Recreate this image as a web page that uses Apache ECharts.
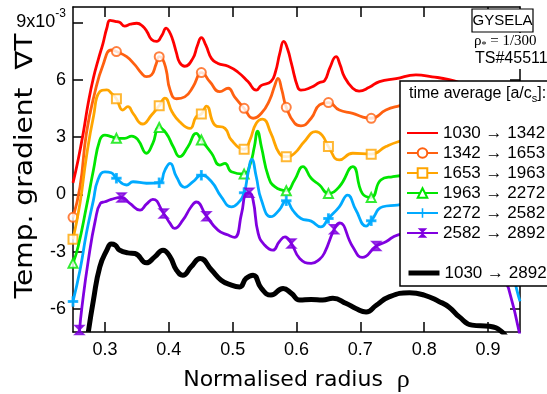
<!DOCTYPE html>
<html>
<head>
<meta charset="utf-8">
<script src="https://cdn.jsdelivr.net/npm/echarts@6/dist/echarts.min.js"></script>
<style>
  html, body { margin: 0; padding: 0; background: #fff; }
  #chart { width: 547px; height: 394px; }
</style>
</head>
<body>
<div id="chart"></div>
<script>
// tick positions
const xTicks = [0.3, 0.4, 0.5, 0.6, 0.7, 0.8, 0.9];
const yTicks = [-6, -3, 0, 3, 6, 9];

const seriesNames = [
  '1030 → 1342', '1342 → 1653', '1653 → 1963',
  '1963 → 2272', '2272 → 2582', '2582 → 2892', '1030 → 2892'
];

// curves, [rho, gradT (x1e-3)]
const red = [[0.25,0.6],[0.258,1.8],[0.266,3.2],[0.274,4.8],[0.282,6.1],[0.29,7.1],[0.297,7.9],[0.303,8.7],[0.308,9.1],[0.316,9.05],[0.323,9.0],[0.331,8.8],[0.34,8.9],[0.35,8.95],[0.359,8.8],[0.366,8.5],[0.373,8.1],[0.381,8.0],[0.389,8.3],[0.396,8.7],[0.401,8.5],[0.406,8.1],[0.412,7.4],[0.417,6.9],[0.425,6.7],[0.4375,7.1],[0.445,7.8],[0.451,8.2],[0.458,7.8],[0.467,7.1],[0.477,6.85],[0.493,6.7],[0.508,6.4],[0.524,5.9],[0.537,5.45],[0.545,5.7],[0.56,5.9],[0.567,6.4],[0.574,7.4],[0.58,8.0],[0.586,7.6],[0.592,6.85],[0.602,5.6],[0.607,5.45],[0.623,5.6],[0.636,5.85],[0.644,5.95],[0.652,6.6],[0.662,7.2],[0.668,6.8],[0.675,6.15],[0.688,5.55],[0.698,5.4],[0.714,5.6],[0.73,5.9],[0.756,6.05],[0.787,6.25],[0.8125,6.15],[0.839,6.0],[0.87,5.7],[0.9,5.5],[0.93,5.3],[0.95,4.8]];
const orange = [[0.25,-1.2],[0.261,0.4],[0.271,3.2],[0.284,5.3],[0.297,6.77],[0.31,7.55],[0.318,7.47],[0.334,7.2],[0.347,6.77],[0.357,6.35],[0.365,6.16],[0.373,6.25],[0.38,6.8],[0.385,7.2],[0.39,7.1],[0.396,6.5],[0.402,5.46],[0.412,5.0],[0.425,5.1],[0.438,5.63],[0.448,6.33],[0.451,6.37],[0.464,5.9],[0.48,5.37],[0.493,5.55],[0.503,5.1],[0.518,4.5],[0.532,3.98],[0.545,4.24],[0.558,4.94],[0.566,5.7],[0.571,6.07],[0.577,5.46],[0.584,4.55],[0.597,3.72],[0.607,3.58],[0.623,3.98],[0.636,4.68],[0.65,4.8],[0.667,4.41],[0.688,4.24],[0.703,4.05],[0.717,3.98],[0.74,4.41],[0.758,4.6],[0.79,4.8],[0.83,4.6],[0.87,4.3],[0.91,4.0],[0.95,3.5]];
const yellow = [[0.25,-2.35],[0.261,-0.46],[0.271,1.97],[0.282,4.06],[0.292,5.37],[0.303,5.46],[0.31,5.29],[0.318,5.0],[0.328,4.41],[0.336,4.59],[0.344,4.24],[0.359,3.68],[0.373,4.15],[0.385,4.64],[0.394,5.03],[0.405,4.32],[0.417,3.8],[0.433,3.45],[0.443,4.06],[0.451,4.2],[0.459,4.62],[0.472,3.63],[0.488,3.45],[0.498,2.84],[0.518,2.36],[0.527,2.84],[0.537,3.72],[0.547,3.93],[0.56,3.19],[0.573,2.15],[0.584,1.97],[0.597,2.15],[0.612,2.75],[0.63,3.28],[0.64,3.1],[0.65,2.5],[0.667,1.8],[0.688,2.15],[0.717,2.1],[0.74,2.5],[0.758,2.74],[0.79,3.0],[0.83,2.8],[0.87,2.5],[0.91,2.2],[0.95,1.5]];
const green = [[0.25,-3.6],[0.258,-2.74],[0.271,-0.65],[0.282,1.27],[0.292,2.84],[0.3,3.1],[0.31,3.02],[0.318,2.93],[0.331,2.93],[0.342,3.05],[0.352,2.84],[0.365,2.15],[0.375,2.67],[0.385,3.5],[0.396,3.19],[0.407,2.49],[0.417,1.97],[0.43,2.49],[0.443,3.19],[0.451,2.84],[0.467,2.15],[0.48,1.53],[0.488,1.62],[0.498,1.18],[0.518,1.06],[0.527,1.53],[0.534,2.49],[0.539,3.3],[0.545,2.49],[0.556,0.92],[0.566,0.4],[0.584,0.19],[0.597,0.75],[0.61,1.45],[0.623,0.84],[0.636,0.49],[0.65,0.05],[0.667,0.4],[0.688,1.45],[0.703,0.05],[0.717,-0.16],[0.732,0.75],[0.75,0.92],[0.78,1.0],[0.82,0.8],[0.86,0.5],[0.9,0.3],[0.95,-0.5]];
const blue = [[0.25,-5.6],[0.261,-3.96],[0.271,-2.04],[0.282,-0.3],[0.289,0.75],[0.3,1.18],[0.31,1.13],[0.318,0.84],[0.334,0.49],[0.344,0.66],[0.365,0.58],[0.385,0.61],[0.394,1.27],[0.402,1.62],[0.412,0.92],[0.425,0.37],[0.438,0.66],[0.451,1.0],[0.467,0.66],[0.482,-0.12],[0.498,-0.65],[0.508,-0.47],[0.518,0.08],[0.524,1.1],[0.53,1.83],[0.537,0.92],[0.545,-0.3],[0.56,-1.17],[0.573,-0.82],[0.584,-0.33],[0.594,-0.82],[0.607,-1.26],[0.623,-1.4],[0.638,-1.7],[0.65,-1.26],[0.667,-0.65],[0.68,-0.04],[0.693,-0.82],[0.709,-1.66],[0.717,-1.38],[0.735,-0.65],[0.758,-0.56],[0.79,-0.4],[0.83,-0.6],[0.87,-1.0],[0.91,-1.8],[0.93,-3.0],[0.945,-5.0],[0.95,-5.6]];
const purple = [[0.26,-7.2],[0.264,-5.9],[0.274,-3.44],[0.285,-1.35],[0.293,-0.47],[0.3,-0.39],[0.31,-0.26],[0.326,-0.16],[0.339,-0.47],[0.355,-0.82],[0.365,-0.51],[0.375,-0.26],[0.392,-1.0],[0.402,-1.52],[0.409,-1.78],[0.422,-1.35],[0.435,-0.65],[0.443,-0.4],[0.459,-1.14],[0.477,-1.87],[0.493,-2.13],[0.503,-2.25],[0.514,-1.0],[0.521,0.05],[0.526,0.08],[0.532,-0.3],[0.54,-2.04],[0.55,-2.65],[0.563,-2.92],[0.573,-2.48],[0.582,-2.22],[0.592,-2.57],[0.605,-3.35],[0.623,-3.61],[0.636,-3.4],[0.644,-3.05],[0.659,-1.83],[0.667,-1.49],[0.688,-2.74],[0.703,-3.3],[0.725,-2.7],[0.74,-2.48],[0.758,-2.13],[0.79,-2.0],[0.83,-2.3],[0.87,-3.0],[0.91,-4.0],[0.925,-4.5],[0.932,-4.9],[0.95,-7.4]];
const black = [[0.274,-7.2],[0.282,-5.53],[0.292,-3.79],[0.303,-2.92],[0.31,-2.6],[0.316,-2.65],[0.323,-2.92],[0.336,-3.06],[0.347,-3.09],[0.365,-3.58],[0.378,-3.27],[0.391,-2.92],[0.402,-3.27],[0.412,-3.96],[0.422,-4.23],[0.435,-3.79],[0.449,-3.35],[0.467,-3.96],[0.482,-4.49],[0.498,-4.75],[0.511,-4.84],[0.521,-4.4],[0.532,-4.23],[0.545,-4.92],[0.56,-5.27],[0.579,-4.92],[0.592,-5.18],[0.605,-5.53],[0.623,-5.5],[0.641,-5.53],[0.657,-5.44],[0.678,-5.71],[0.693,-5.97],[0.709,-6.15],[0.725,-5.8],[0.745,-5.36],[0.777,-5.15],[0.8,-5.27],[0.823,-5.6],[0.839,-5.9],[0.855,-6.41],[0.875,-6.84],[0.902,-6.9],[0.922,-7.2],[0.93,-7.6]];

// marker points on the curves
const orangeMarks = [[0.25,-1.2],[0.318,7.47],[0.385,7.2],[0.451,6.37],[0.518,4.5],[0.584,4.55],[0.65,4.8],[0.717,3.98]];
const yellowMarks = [[0.25,-2.35],[0.318,5.0],[0.385,4.64],[0.451,4.2],[0.518,2.36],[0.584,1.97],[0.65,2.5],[0.717,2.1]];
const greenMarks = [[0.25,-3.6],[0.318,2.93],[0.385,3.5],[0.451,2.84],[0.518,1.06],[0.584,0.19],[0.65,0.05],[0.717,-0.16]];
const blueMarks = [[0.25,-5.6],[0.318,0.84],[0.385,0.61],[0.451,1.0],[0.518,0.08],[0.584,-0.33],[0.65,-1.26],[0.717,-1.38]];
const purpleMarks = [[0.26,-7.1],[0.326,-0.16],[0.392,-1.0],[0.459,-1.14],[0.526,0.08],[0.592,-2.57],[0.659,-1.83],[0.725,-2.7]];

const colors = ['#ff0000', '#ff6010', '#ffa500', '#00e600', '#00aaff', '#8000e0', '#000000'];
const curves = [red, orange, yellow, green, blue, purple, black];
const marks = [null, orangeMarks, yellowMarks, greenMarks, blueMarks, purpleMarks, null];
const symbols = [
  'none', 'emptyCircle', 'emptyRect', 'emptyTriangle',
  'path://M4.2,0H5.8V4.2H10V5.8H5.8V10H4.2V5.8H0V4.2H4.2Z',
  'path://M0,0L10,0L5,5L10,10L0,10L5,5Z',
  'none'
];

const chart = echarts.init(document.getElementById('chart'));

const series = [];
curves.forEach((d, i) => {
  series.push({
    name: seriesNames[i],
    type: 'line',
    data: d,
    smooth: 0.5,
    symbol: symbols[i],
    showSymbol: false,
    color: colors[i],
    lineStyle: { color: colors[i], width: i === 6 ? 5 : 2.8 },
    itemStyle: { color: colors[i] },
    z: 2 + i,
  });
  if (marks[i]) {
    series.push({
      name: 'm' + i,
      type: 'scatter',
      data: marks[i],
      symbol: symbols[i],
      symbolSize: 9,
      itemStyle: { color: colors[i], borderColor: colors[i], borderWidth: 1.5 },
      z: 2 + i,
    });
  }
});

const axisLine = { onZero: false, lineStyle: { color: '#000', width: 1.5 } };
const tick = { inside: true, length: 10, lineStyle: { color: '#000', width: 1.5 } };
const legendText = { fontSize: 17, fontFamily: 'Liberation Sans', color: '#000', lineHeight: 18 };

chart.setOption({
  animation: false,
  backgroundColor: '#fff',
  grid: { left: 73, right: 27, top: 7, bottom: 62, outerBoundsMode: 'none' },
  xAxis: [
    {
      type: 'value', min: 0.25, max: 0.95, position: 'bottom',
      axisLine: axisLine,
      axisTick: Object.assign({ customValues: xTicks }, tick),
      axisLabel: {
        customValues: xTicks, margin: 9,
        formatter: v => v.toFixed(1),
        color: '#000', fontSize: 18, fontFamily: 'Liberation Sans'
      },
      splitLine: { show: false },
      name: '{a|Normalised radius  }{r|ρ}',
      nameLocation: 'middle', nameGap: 35, nameMoveOverlap: false,
      nameTextStyle: {
        rich: {
          a: { fontFamily: 'DejaVu Sans', fontSize: 22, color: '#000' },
          r: { fontFamily: 'Liberation Serif', fontSize: 26, color: '#000' }
        }
      }
    },
    {
      type: 'value', min: 0.25, max: 0.95, position: 'top',
      axisLine: axisLine,
      axisTick: Object.assign({ customValues: xTicks }, tick),
      axisLabel: { show: false },
      splitLine: { show: false }
    }
  ],
  yAxis: [
    {
      type: 'value', min: -7.2, max: 9.8, position: 'left',
      axisLine: axisLine,
      axisTick: Object.assign({ customValues: yTicks }, tick),
      axisLabel: {
        customValues: yTicks, margin: 7,
        formatter: v => (v === 9 ? '{m|9x10}{s|-3}' : '{m|' + v + '}'),
        rich: {
          m: { fontSize: 18, fontFamily: 'Liberation Sans', color: '#000', lineHeight: 30 },
          s: { fontSize: 12, fontFamily: 'Liberation Sans', color: '#000', lineHeight: 12, verticalAlign: 'top' }
        }
      },
      splitLine: { show: false }
    },
    {
      type: 'value', min: -7.2, max: 9.8, position: 'right',
      axisLine: axisLine,
      axisTick: Object.assign({ customValues: yTicks }, tick),
      axisLabel: { show: false },
      splitLine: { show: false }
    }
  ],
  legend: [
    {
      data: seriesNames.slice(0, 6).map((n, i) => (i === 0 ? { name: n, itemStyle: { opacity: 0 } } : n)),
      orient: 'vertical', left: 406, top: 124, padding: 0,
      itemWidth: 31, itemHeight: 12, itemGap: 2,
      selectedMode: false, z: 20,
      textStyle: legendText
    },
    {
      data: [{ name: seriesNames[6], itemStyle: { opacity: 0 }, lineStyle: { width: 5 } }],
      orient: 'vertical', left: 406, top: 264, padding: 0,
      itemWidth: 31, itemHeight: 12,
      selectedMode: false, z: 20,
      textStyle: legendText
    }
  ],
  graphic: [
    // y axis title, stretched along its length like the original
    { type: 'text', z: 16, x: 26, y: 166, rotation: Math.PI / 2, scaleX: 1.17,
      style: { text: 'Temp. gradient  ∇T', align: 'center', verticalAlign: 'middle',
               fontSize: 24, fontFamily: 'DejaVu Sans', fill: '#000' } },
    { type: 'rect', z: 15, shape: { x: 400, y: 81, width: 170, height: 205 },
      style: { fill: '#fff', stroke: '#000', lineWidth: 1.5 } },
    { type: 'text', z: 16, x: 409, y: 94,
      style: {
        text: '{t|time average [a/c}{b|s}{t|]:}', verticalAlign: 'middle',
        rich: {
          t: { fontSize: 16, fontFamily: 'Liberation Sans', fill: '#000', lineHeight: 20 },
          b: { fontSize: 11, fontFamily: 'Liberation Sans', fill: '#000', lineHeight: 11, verticalAlign: 'bottom' }
        }
      } },
    { type: 'rect', z: 15, shape: { x: 468, y: 33, width: 79, height: 36 }, style: { fill: '#fff' } },
    { type: 'rect', z: 15, shape: { x: 472, y: 9, width: 61, height: 23 },
      style: { fill: '#fff', stroke: '#000', lineWidth: 1.2 } },
    { type: 'text', z: 16, x: 502.5, y: 21,
      style: { text: 'GYSELA', align: 'center', verticalAlign: 'middle', fontSize: 15, fontFamily: 'Liberation Sans', fill: '#000' } },
    { type: 'text', z: 16, x: 474, y: 41,
      style: {
        text: '{r|ρ}{s|*}{r| = 1/300}', verticalAlign: 'middle',
        rich: {
          r: { fontSize: 15, fontFamily: 'Liberation Serif', fill: '#000', lineHeight: 18 },
          s: { fontSize: 10, fontFamily: 'Liberation Serif', fill: '#000', lineHeight: 10, verticalAlign: 'bottom' }
        }
      } },
    { type: 'text', z: 16, x: 475, y: 59,
      style: { text: 'TS#45511', verticalAlign: 'middle', fontSize: 16, fontFamily: 'Liberation Sans', fill: '#000' } }
  ],
  series: series
});
</script>
</body>
</html>
